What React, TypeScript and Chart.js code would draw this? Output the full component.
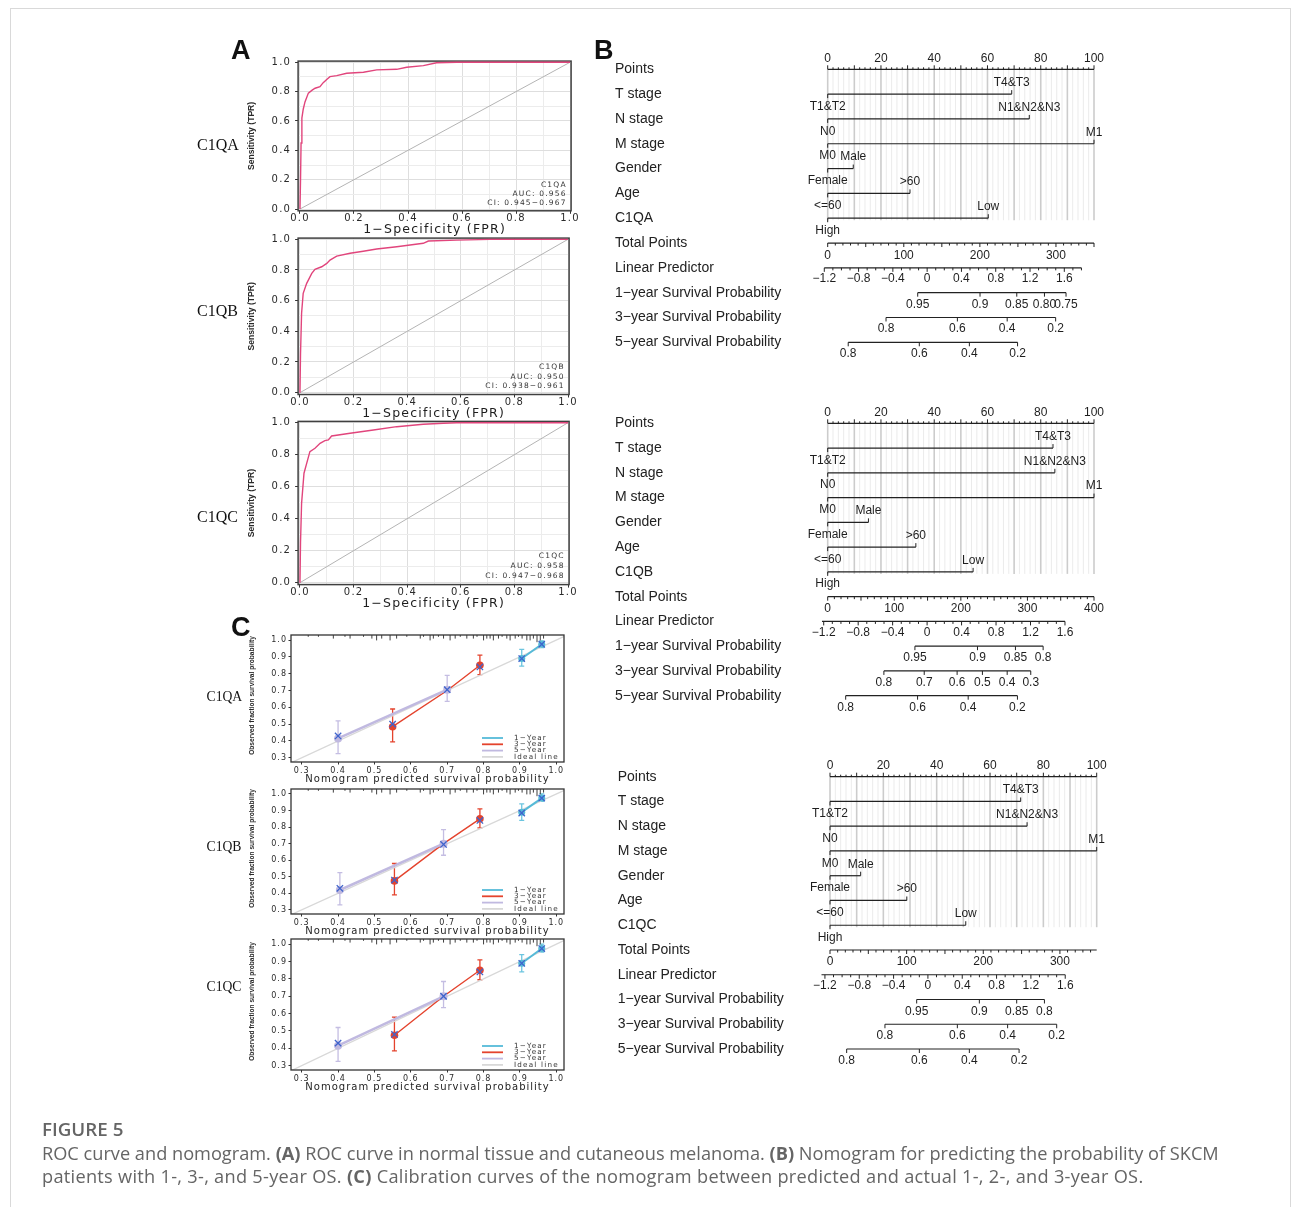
import React, { useEffect, useRef } from 'react';
import { Chart, registerables } from 'chart.js';

Chart.register(...registerables);

// ---------------- ROC data ----------------
const rocGenes = ['C1QA', 'C1QB', 'C1QC'];
const rocAuc = ['0.956', '0.950', '0.958'];
const rocCi = ['0.945−0.967', '0.938−0.961', '0.947−0.968'];
const rocFprA = [0, 0.002, 0.004, 0.007, 0.012, 0.0185, 0.031, 0.045, 0.056, 0.074, 0.086, 0.1, 0.111, 0.136, 0.173, 0.235, 0.284, 0.358, 0.395, 0.457, 0.506, 0.58, 1.0];
const rocTprA = [0, 0.2, 0.45, 0.62, 0.68, 0.73, 0.79, 0.81, 0.823, 0.834, 0.861, 0.885, 0.902, 0.909, 0.925, 0.932, 0.948, 0.952, 0.966, 0.977, 0.997, 1.0, 1.0];
const rocFprB = [0, 0.002, 0.006, 0.012, 0.025, 0.044, 0.056, 0.081, 0.1, 0.112, 0.137, 0.187, 0.236, 0.286, 0.361, 0.46, 0.479, 0.585, 0.709, 1.0];
const rocTprB = [0, 0.25, 0.518, 0.648, 0.713, 0.778, 0.804, 0.821, 0.843, 0.865, 0.891, 0.909, 0.922, 0.937, 0.952, 0.974, 0.989, 0.995, 1.0, 1.0];
const rocFprC = [0, 0.002, 0.006, 0.015, 0.025, 0.037, 0.056, 0.075, 0.093, 0.106, 0.118, 0.187, 0.274, 0.361, 0.46, 0.535, 0.585, 1.0];
const rocTprC = [0, 0.25, 0.496, 0.684, 0.746, 0.819, 0.84, 0.871, 0.888, 0.892, 0.917, 0.934, 0.954, 0.975, 0.99, 0.996, 1.0, 1.0];
const rocFpr = [rocFprA, rocFprB, rocFprC];
const rocTpr = [rocTprA, rocTprB, rocTprC];
const rocGridValues = [0, 0.1, 0.2, 0.3, 0.4, 0.5, 0.6, 0.7, 0.8, 0.9, 1.0];
const rocTickLabels = ['0.0', '', '0.2', '', '0.4', '', '0.6', '', '0.8', '', '1.0'];
const rocXTitle = '1−Specificity (FPR)';
const rocYTitle = 'Sensitivity (TPR)';

// ---------------- Calibration data ----------------
const calTickValues = [0.3, 0.4, 0.5, 0.6, 0.7, 0.8, 0.9, 1.0];
const calTickLabels = ['0.3', '0.4', '0.5', '0.6', '0.7', '0.8', '0.9', '1.0'];
const calLegendLabels = ['1−Year', '3−Year', '5−Year', 'Ideal line'];
const calXTitle = 'Nomogram predicted survival probability';
const calYTitle = 'Observed fraction survival probability';
const calIdeal = [0.25, 1.05];
const cal1yPred = [[0.905, 0.96], [0.905, 0.96], [0.905, 0.96]];
const cal1yObs = [[0.89, 0.975], [0.89, 0.975], [0.89, 0.975]];
const cal1yLo = [[0.845, 0.955], [0.84, 0.955], [0.84, 0.955]];
const cal1yHi = [[0.945, 0.995], [0.94, 1.0], [0.94, 1.0]];
const cal3yPred = [[0.55, 0.70, 0.79], [0.555, 0.69, 0.79], [0.555, 0.69, 0.79]];
const cal3yObs = [[0.485, 0.70, 0.85], [0.475, 0.70, 0.85], [0.475, 0.70, 0.85]];
const cal3yLo = [[0.395, null, 0.795], [0.39, null, 0.795], [0.385, null, 0.795]];
const cal3yHi = [[0.59, null, 0.91], [0.58, null, 0.91], [0.58, null, 0.91]];
const cal5yPred = [[0.40, 0.70], [0.405, 0.69], [0.40, 0.69]];
const cal5yObs = [[0.415, 0.705], [0.42, 0.70], [0.415, 0.70]];
const cal5yLo = [[0.325, 0.635], [0.33, 0.63], [0.325, 0.635]];
const cal5yHi = [[0.52, 0.79], [0.525, 0.785], [0.52, 0.785]];
const calKmPred = [[0.40, 0.55, 0.70, 0.79, 0.905, 0.96], [0.405, 0.555, 0.69, 0.79, 0.905, 0.96], [0.40, 0.555, 0.69, 0.79, 0.905, 0.96]];
const calKmObs = [[0.43, 0.50, 0.705, 0.84, 0.89, 0.975], [0.43, 0.48, 0.695, 0.84, 0.885, 0.975], [0.43, 0.48, 0.70, 0.84, 0.89, 0.975]];
const calRugX = [0.318, 0.346, 0.387, 0.419, 0.433, 0.47, 0.493, 0.506, 0.52, 0.543, 0.561, 0.589, 0.626, 0.635, 0.653, 0.662, 0.676, 0.69, 0.708, 0.722, 0.736, 0.754, 0.772, 0.782, 0.8, 0.809, 0.818, 0.827, 0.841, 0.851, 0.864, 0.873, 0.887, 0.896, 0.906, 0.919, 0.928, 0.937, 0.947, 0.956, 0.965];
const calRugN = [1, 1, 2, 1, 2, 1, 2, 3, 2, 3, 2, 1, 2, 1, 3, 2, 1, 2, 3, 2, 1, 2, 2, 1, 3, 2, 2, 3, 2, 1, 2, 3, 2, 1, 2, 3, 3, 2, 4, 3, 2];

// ---------------- Nomogram data ----------------
const nomoVarNames = ['T stage', 'N stage', 'M stage', 'Gender', 'Age'];
const nomoSurvNames = ['1−year Survival Probability', '3−year Survival Probability', '5−year Survival Probability'];
const nomoHiLabels = ['T4&T3', 'N1&N2&N3', 'M1', 'Male', '>60', 'Low'];
const nomoLoLabels = ['T1&T2', 'N0', 'M0', 'Female', '<=60', 'High'];
const nomoVarPoints = [
  [69.1, 75.7, 100, 9.6, 30.9, 60.3],
  [84.6, 85.3, 100, 15.3, 33.1, 54.6],
  [71.5, 73.9, 100, 11.5, 28.8, 50.9],
];
const nomoPointsLabels = [0, 20, 40, 60, 80, 100];
const nomoTotalMax = [350, 400, 348];
const nomoTotalLabels = [[0, 100, 200, 300], [0, 100, 200, 300, 400], [0, 100, 200, 300]];
const nomoLpRef = [-1.2, 1.6];
const nomoLpRefPts = [[-1.28, 88.85], [-1.5, 89.1], [-1.9, 88.2]];
const nomoLpRange = [[-1.2, 1.8], [-1.22, 1.6], [-1.24, 1.6]];
const nomoLpLabels = [-1.2, -0.8, -0.4, 0, 0.4, 0.8, 1.2, 1.6];
const nomoSurv1Labels = [['0.95', '0.9', '0.85', '0.80', '0.75'], ['0.95', '0.9', '0.85', '0.8'], ['0.95', '0.9', '0.85', '0.8']];
const nomoSurv1Pts = [[33.8, 57.2, 71.0, 81.4, 89.5], [32.75, 56.25, 70.5, 80.9], [32.5, 56, 70, 80.4]];
const nomoSurv3Labels = [['0.8', '0.6', '0.4', '0.2'], ['0.8', '0.7', '0.6', '0.5', '0.4', '0.3'], ['0.8', '0.6', '0.4', '0.2']];
const nomoSurv3Pts = [[21.9, 48.7, 67.4, 85.6], [21.1, 36.25, 48.6, 58.1, 67.4, 76.25], [20.6, 47.75, 66.6, 85]];
const nomoSurv5Labels = [['0.8', '0.6', '0.4', '0.2'], ['0.8', '0.6', '0.4', '0.2'], ['0.8', '0.6', '0.4', '0.2']];
const nomoSurv5Pts = [[7.7, 34.4, 53.2, 71.3], [6.75, 33.75, 52.75, 71.25], [6.25, 33.5, 52.25, 70.9]];

// ---------------- layout (page px) ----------------
const rocGeo = [
  { cx: 240, cy: 50, cw: 345, ch: 190, l: 298.1, t: 61.1, r: 571.1, b: 210.8 },
  { cx: 240, cy: 228, cw: 345, ch: 196, l: 298.1, t: 238.1, r: 569.1, b: 394.5 },
  { cx: 240, cy: 410, cw: 345, ch: 204, l: 298.1, t: 421.4, r: 569.1, b: 584.6 },
];
const calGeo = [
  { cx: 240, cy: 625, cw: 330, ch: 162, l: 291, t: 635, r: 564, b: 762 },
  { cx: 240, cy: 779, cw: 330, ch: 160, l: 291, t: 789, r: 564, b: 914 },
  { cx: 240, cy: 929, cw: 330, ch: 166, l: 291, t: 939, r: 564, b: 1070 },
];
const nomoGeo = [
  { cx: 605, cy: 40, cw: 510, ch: 330, lx: 615, l: 827.7, t: 69.3, r: 1094, b: 342.3 },
  { cx: 605, cy: 395, cw: 510, ch: 330, lx: 615, l: 827.7, t: 423.3, r: 1094, b: 695.7 },
  { cx: 605, cy: 750, cw: 510, ch: 330, lx: 617.7, l: 830, t: 776.7, r: 1096.7, b: 1049 },
];

const SANS = '"Liberation Sans", Arial, sans-serif';
const WIDE = '"DejaVu Sans", sans-serif';
const SERIF = '"Liberation Serif", "Times New Roman", serif';
const CAPTION = '"Open Sans", sans-serif';

// ---------------- plugins ----------------
const spacingPlugin = (px: string) => ({
  id: 'spacing',
  beforeDraw(c: any) { c.ctx.letterSpacing = px; },
  afterDraw(c: any) { c.ctx.letterSpacing = '0px'; },
});

const rotTitlePlugin = (text: string, x: number, size: number, dy: number) => ({
  id: 'rotTitle',
  afterDraw(c: any) {
    const ctx = c.ctx;
    const { top, bottom } = c.chartArea;
    ctx.save();
    ctx.letterSpacing = '0px';
    ctx.translate(x, (top + bottom) / 2 + dy);
    ctx.rotate(-Math.PI / 2);
    ctx.font = `bold ${size}px ${SANS}`;
    ctx.fillStyle = '#2a2a2a';
    ctx.textAlign = 'center';
    ctx.textBaseline = 'middle';
    ctx.fillText(text, 0, 0);
    ctx.restore();
  },
});

const rocFramePlugin = {
  id: 'rocFrame',
  beforeDatasetsDraw(c: any) {
    const { left, top, right, bottom } = c.chartArea;
    const ctx = c.ctx;
    ctx.save();
    ctx.strokeStyle = '#404040';
    ctx.lineWidth = 1.5;
    ctx.strokeRect(left, top, right - left, bottom - top);
    ctx.restore();
  },
};

const rocTextPlugin = (k: number) => ({
  id: 'rocText',
  afterDatasetsDraw(c: any) {
    const ctx = c.ctx;
    const xs = c.scales.x, ys = c.scales.y;
    const x = xs.getPixelForValue(0.988);
    const lines = [rocGenes[k], 'AUC: ' + rocAuc[k], 'CI: ' + rocCi[k]];
    const yv = [0.166, 0.101, 0.04];
    ctx.save();
    ctx.letterSpacing = '1.2px';
    ctx.font = `7.5px ${WIDE}`;
    ctx.fillStyle = '#333';
    ctx.textAlign = 'right';
    ctx.textBaseline = 'middle';
    lines.forEach((s, i) => ctx.fillText(s, x, ys.getPixelForValue(yv[i])));
    ctx.restore();
  },
});

const calDecorPlugin = {
  id: 'calDecor',
  beforeDatasetsDraw(c: any) {
    const ctx = c.ctx, xs = c.scales.x, ys = c.scales.y;
    ctx.save();
    c.data.datasets.forEach((ds: any) => {
      if (!ds.errLo) return;
      ctx.strokeStyle = ds.errColor;
      ctx.lineWidth = 1.3;
      ds.data.forEach((p: any, j: number) => {
        const lo = ds.errLo[j], hi = ds.errHi[j];
        if (lo == null || hi == null) return;
        const x = xs.getPixelForValue(p.x);
        const y1 = ys.getPixelForValue(lo), y2 = ys.getPixelForValue(hi);
        ctx.beginPath();
        ctx.moveTo(x, y1); ctx.lineTo(x, y2);
        ctx.moveTo(x - 2.5, y1); ctx.lineTo(x + 2.5, y1);
        ctx.moveTo(x - 2.5, y2); ctx.lineTo(x + 2.5, y2);
        ctx.stroke();
      });
    });
    ctx.restore();
  },
  afterDatasetsDraw(c: any) {
    const ctx = c.ctx, xs = c.scales.x;
    const { left, top, right, bottom } = c.chartArea;
    ctx.save();
    ctx.strokeStyle = '#2a2a2a';
    ctx.lineWidth = 0.9;
    calRugX.forEach((v, i) => {
      const x = xs.getPixelForValue(v);
      ctx.beginPath(); ctx.moveTo(x, top); ctx.lineTo(x, top + calRugN[i] * 1.8); ctx.stroke();
    });
    ctx.strokeStyle = '#333';
    ctx.lineWidth = 1.3;
    ctx.strokeRect(left, top, right - left, bottom - top);
    ctx.restore();
  },
  afterDraw(c: any) {
    const ctx = c.ctx;
    const { right, bottom } = c.chartArea;
    ctx.save();
    ctx.letterSpacing = '1.2px';
    ctx.font = `7.2px ${WIDE}`;
    ctx.fillStyle = '#333';
    ctx.textAlign = 'left';
    ctx.textBaseline = 'middle';
    calLegendLabels.forEach((lab, r) => {
      const ds: any = c.data.datasets.find((d: any) => d.label === lab);
      const y = bottom - 24 + r * 6.3;
      ctx.strokeStyle = ds.borderColor;
      ctx.lineWidth = 1.8;
      ctx.beginPath(); ctx.moveTo(right - 82, y); ctx.lineTo(right - 61, y); ctx.stroke();
      ctx.fillText(lab, right - 50, y);
    });
    ctx.restore();
  },
};

const lpFormat = (v: number) => {
  const r = Math.round(v * 10) / 10;
  if (r === 0) return '0';
  return (r < 0 ? '−' : '') + Math.abs(r).toFixed(1);
};

const nomoDecorPlugin = (k: number) => {
  const [p0, p1] = nomoLpRefPts[k];
  const lpPos = (v: number) => p0 + (v - nomoLpRef[0]) * (p1 - p0) / (nomoLpRef[1] - nomoLpRef[0]);
  const totPos = (t: number) => (t * 100) / nomoTotalMax[k];
  return {
    id: 'nomoDecor',
    beforeDatasetsDraw(c: any) {
      const ctx = c.ctx;
      const X = (v: number) => c.scales.x.getPixelForValue(v);
      const Y = (r: number) => c.scales.y.getPixelForValue(r);
      const yTop = Y(0), yBot = Y(6) + 2;
      ctx.save();
      for (let i = 0; i <= 50; i++) {
        const v = i * 2;
        const major = v % 10 === 0;
        ctx.strokeStyle = major ? '#cccccc' : '#e6e6e6';
        ctx.lineWidth = major ? 1.6 : 0.8;
        ctx.beginPath(); ctx.moveTo(X(v), yTop); ctx.lineTo(X(v), yBot); ctx.stroke();
      }
      ctx.restore();
    },
    afterDatasetsDraw(c: any) {
      const ctx = c.ctx;
      const X = (v: number) => c.scales.x.getPixelForValue(v);
      const Y = (r: number) => c.scales.y.getPixelForValue(r);
      ctx.save();
      ctx.strokeStyle = '#222';
      ctx.lineWidth = 1;
      ctx.fillStyle = '#1e1e1e';
      ctx.font = `12px ${SANS}`;
      ctx.textAlign = 'center';
      ctx.textBaseline = 'middle';
      const tick = (x: number, y: number, len: number) => { ctx.beginPath(); ctx.moveTo(x, y); ctx.lineTo(x, y + len); ctx.stroke(); };
      // Points axis
      const y0 = Y(0);
      for (let i = 0; i <= 50; i++) tick(X(i * 2), y0, i % 5 === 0 ? -4 : -2);
      nomoPointsLabels.forEach((v) => ctx.fillText(String(v), X(v), y0 - 11));
      // variables
      nomoVarPoints[k].forEach((e, j) => {
        const y = Y(j + 1);
        tick(X(e), y, -4);
        tick(X(0), y, 4);
        ctx.fillText(nomoHiLabels[j], X(e), y - 11.5);
        ctx.fillText(nomoLoLabels[j], X(0), y + 12.3);
      });
      // total points
      const yT = Y(7);
      for (let t = 0; t <= nomoTotalMax[k] + 1e-6; t += 10) tick(X(totPos(t)), yT, t % 50 === 0 ? 4 : 2.5);
      nomoTotalLabels[k].forEach((t) => ctx.fillText(String(t), X(totPos(t)), yT + 12.2));
      // linear predictor
      const yL = Y(8);
      const lpMax = nomoLpRange[k][1];
      for (let i = 0; i < 60; i++) {
        const v = nomoLpRef[0] + i * 0.1;
        if (v > lpMax + 1e-6) break;
        tick(X(lpPos(v)), yL, i % 4 === 0 ? 4 : 2.5);
      }
      nomoLpLabels.forEach((v) => { if (v <= lpMax + 1e-6) ctx.fillText(lpFormat(v), X(lpPos(v)), yL + 11); });
      // survival axes
      const surv = [[nomoSurv1Labels[k], nomoSurv1Pts[k]], [nomoSurv3Labels[k], nomoSurv3Pts[k]], [nomoSurv5Labels[k], nomoSurv5Pts[k]]] as any[];
      surv.forEach(([labels, pts], m) => {
        const y = Y(9 + m);
        pts.forEach((p: number, j: number) => { tick(X(p), y, 4); ctx.fillText(labels[j], X(p), y + 11.7); });
      });
      ctx.restore();
    },
  };
};

// ---------------- chart builders ----------------
function makeRoc(canvas: HTMLCanvasElement, k: number, g: any) {
  const curve = rocFpr[k].map((x, j) => ({ x, y: rocTpr[k][j] }));
  const xAxisH = g.cy + g.ch - g.b;
  const yAxisW = g.l - g.cx;
  const axisFont = { family: 'DejaVu Sans', size: 10, lineHeight: 1 };
  const gridColor = (c: any) => (c.index % 2 === 0 ? '#dedede' : '#ececec');
  const tickColor = (c: any) => (c.index % 2 === 0 ? '#333333' : 'rgba(0,0,0,0)');
  return new Chart(canvas, {
    type: 'scatter',
    data: {
      datasets: [
        { label: rocGenes[k], data: curve, showLine: true, borderColor: '#e1457c', borderWidth: 1.4, pointRadius: 0, order: 0 },
        { label: 'chance', data: [{ x: 0, y: 0 }, { x: 1, y: 1 }], showLine: true, borderColor: '#b4b4b4', borderWidth: 1, pointRadius: 0, order: 1 },
      ],
    },
    options: {
      responsive: false,
      animation: false,
      events: [],
      layout: { padding: { left: 0, top: g.t - g.cy, right: g.cx + g.cw - g.r, bottom: 0 } },
      plugins: { legend: { display: false }, tooltip: { enabled: false } },
      scales: {
        x: {
          type: 'linear', min: -0.007, max: 1.004,
          afterBuildTicks: (s: any) => { s.ticks = rocGridValues.map((v) => ({ value: v })); },
          afterFit: (s: any) => { s.height = xAxisH; },
          ticks: { callback: (_v: any, i: number) => rocTickLabels[i], font: axisFont, color: '#2a2a2a', padding: 0, maxRotation: 0, autoSkip: false },
          grid: { color: gridColor, lineWidth: 1, tickLength: 3, tickColor, tickWidth: 1 },
          border: { display: false },
          title: { display: true, text: rocXTitle, font: { family: 'DejaVu Sans', size: 12.5, lineHeight: 1 }, color: '#1e1e1e', padding: { top: 0, bottom: 4.2 } },
        },
        y: {
          type: 'linear', min: -0.012, max: 1.008,
          afterBuildTicks: (s: any) => { s.ticks = rocGridValues.map((v) => ({ value: v })); },
          afterFit: (s: any) => { s.width = yAxisW; },
          ticks: { callback: (_v: any, i: number) => rocTickLabels[i], font: axisFont, color: '#2a2a2a', padding: 4, autoSkip: false },
          grid: { color: gridColor, lineWidth: 1, tickLength: 3, tickColor, tickWidth: 1 },
          border: { display: false },
        },
      },
    },
    plugins: [spacingPlugin('1.2px'), rocFramePlugin, rocTextPlugin(k), rotTitlePlugin(rocYTitle, 251.7 - g.cx, 8.6, 0)],
  } as any);
}

function makeCal(canvas: HTMLCanvasElement, k: number, g: any) {
  const pts = (xs: number[], ys: number[]) => xs.map((x, j) => ({ x, y: ys[j] }));
  const xAxisH = g.cy + g.ch - g.b;
  const yAxisW = g.l - g.cx;
  const axisFont = { family: 'DejaVu Sans', size: 8, lineHeight: 1 };
  const datasets: any[] = [
    { label: 'Kaplan-Meier', data: pts(calKmPred[k], calKmObs[k]), showLine: false, pointStyle: 'crossRot', pointRadius: 4.5, pointBorderColor: '#3f64cc', pointBorderWidth: 1.3, pointBackgroundColor: 'rgba(0,0,0,0)', order: 0 },
    { label: '1−Year', data: pts(cal1yPred[k], cal1yObs[k]), showLine: true, borderColor: '#55bad8', borderWidth: 2, pointRadius: 3.5, pointBackgroundColor: '#55bad8', pointBorderWidth: 0, errLo: cal1yLo[k], errHi: cal1yHi[k], errColor: '#6cc5df', order: 1 },
    { label: '5−Year', data: pts(cal5yPred[k], cal5yObs[k]), showLine: true, borderColor: '#c0b9e0', borderWidth: 2.5, pointRadius: 4, pointBackgroundColor: '#c0b9e0', pointBorderWidth: 0, errLo: cal5yLo[k], errHi: cal5yHi[k], errColor: '#c4bde2', order: 2 },
    { label: '3−Year', data: pts(cal3yPred[k], cal3yObs[k]), showLine: true, borderColor: '#e4432d', borderWidth: 1.4, pointRadius: [3.8, 0, 3.8], pointBackgroundColor: '#e4432d', pointBorderWidth: 0, errLo: cal3yLo[k], errHi: cal3yHi[k], errColor: '#e4432d', order: 3 },
    { label: 'Ideal line', data: calIdeal.map((v) => ({ x: v, y: v })), showLine: true, borderColor: '#d8d8d8', borderWidth: 1.3, pointRadius: 0, order: 4 },
  ];
  return new Chart(canvas, {
    type: 'scatter',
    data: { datasets },
    options: {
      responsive: false,
      animation: false,
      events: [],
      layout: { padding: { left: 0, top: g.t - g.cy, right: g.cx + g.cw - g.r, bottom: 0 } },
      plugins: { legend: { display: false }, tooltip: { enabled: false } },
      scales: {
        x: {
          type: 'linear', min: 0.2706, max: 1.0212,
          afterBuildTicks: (s: any) => { s.ticks = calTickValues.map((v) => ({ value: v })); },
          afterFit: (s: any) => { s.height = xAxisH; },
          ticks: { callback: (_v: any, i: number) => calTickLabels[i], font: axisFont, color: '#2a2a2a', padding: 2, maxRotation: 0, autoSkip: false },
          grid: { drawOnChartArea: false, tickLength: 2.5, tickColor: '#333', tickWidth: 1 },
          border: { display: false },
          title: { display: true, text: calXTitle, font: { family: 'DejaVu Sans', size: 10, lineHeight: 1 }, color: '#1e1e1e', padding: { top: 0, bottom: 2.5 } },
        },
        y: {
          type: 'linear', min: 0.275, max: 1.03,
          afterBuildTicks: (s: any) => { s.ticks = calTickValues.map((v) => ({ value: v })); },
          afterFit: (s: any) => { s.width = yAxisW; },
          ticks: { callback: (_v: any, i: number) => calTickLabels[i], font: axisFont, color: '#2a2a2a', padding: 1.5, autoSkip: false },
          grid: { drawOnChartArea: false, tickLength: 2.5, tickColor: '#333', tickWidth: 1 },
          border: { display: false },
        },
      },
    },
    plugins: [spacingPlugin('1px'), calDecorPlugin, rotTitlePlugin(calYTitle, 252.3 - g.cx, 6.6, -3)],
  } as any);
}

function makeNomo(canvas: HTMLCanvasElement, k: number, g: any) {
  const rows = ['Points', ...nomoVarNames, rocGenes[k], 'Total Points', 'Linear Predictor', ...nomoSurvNames];
  const [p0, p1] = nomoLpRefPts[k];
  const lpPos = (v: number) => p0 + (v - nomoLpRef[0]) * (p1 - p0) / (nomoLpRef[1] - nomoLpRef[0]);
  const totPos = (t: number) => (t * 100) / nomoTotalMax[k];
  const seg = (r: number, a: number, b: number) => ({
    label: rows[r], data: [{ x: a, y: rows[r] }, { x: b, y: rows[r] }], showLine: true,
    borderColor: '#222', borderWidth: 1.2, pointRadius: 0, clip: false,
  });
  const s1 = nomoSurv1Pts[k], s3 = nomoSurv3Pts[k], s5 = nomoSurv5Pts[k];
  const datasets = [
    seg(0, nomoPointsLabels[0], nomoPointsLabels[nomoPointsLabels.length - 1]),
    ...nomoVarPoints[k].map((e, j) => seg(j + 1, 0, e)),
    seg(7, totPos(0), totPos(nomoTotalMax[k])),
    seg(8, lpPos(nomoLpRange[k][0]), lpPos(nomoLpRange[k][1])),
    seg(9, s1[0], s1[s1.length - 1]),
    seg(10, s3[0], s3[s3.length - 1]),
    seg(11, s5[0], s5[s5.length - 1]),
  ];
  const padLeft = g.lx - g.cx;
  const yAxisW = g.l - g.lx;
  return new Chart(canvas, {
    type: 'scatter',
    data: { datasets },
    options: {
      responsive: false,
      animation: false,
      events: [],
      layout: { padding: { left: padLeft, top: g.t - g.cy, right: g.cx + g.cw - g.r, bottom: g.cy + g.ch - g.b } },
      plugins: { legend: { display: false }, tooltip: { enabled: false } },
      scales: {
        x: { type: 'linear', min: 0, max: 100, display: false },
        y: {
          type: 'category', labels: rows, offset: false,
          afterFit: (s: any) => { s.width = yAxisW; },
          ticks: { crossAlign: 'far', autoSkip: false, font: { family: 'Liberation Sans', size: 14 }, color: '#222' },
          grid: { display: false },
          border: { display: false },
        },
      },
    },
    plugins: [nomoDecorPlugin(k)],
  } as any);
}

// ---------------- React ----------------
const Txt = (p: { x: number; y: number; s: number; f: string; w?: number; c?: string; ls?: number; children: any }) => (
  <div
    style={{
      position: 'absolute', left: p.x, top: p.y, fontSize: p.s, fontFamily: p.f, fontWeight: p.w || 400,
      color: p.c || '#111', lineHeight: 0, whiteSpace: 'nowrap', letterSpacing: p.ls || 0,
    }}
  >
    {p.children}
  </div>
);

export default function App() {
  const refs = useRef<(HTMLCanvasElement | null)[]>([]);
  const geos = [...rocGeo, ...calGeo, ...nomoGeo];
  useEffect(() => {
    const charts: Chart[] = [];
    rocGeo.forEach((g, i) => charts.push(makeRoc(refs.current[i]!, i, g)));
    calGeo.forEach((g, i) => charts.push(makeCal(refs.current[3 + i]!, i, g)));
    nomoGeo.forEach((g, i) => charts.push(makeNomo(refs.current[6 + i]!, i, g)));
    return () => charts.forEach((c) => c.destroy());
  }, []);
  const capColor = '#656565';
  return (
    <div style={{ position: 'absolute', left: 0, top: 0, width: 1295, height: 1207, background: '#fff', overflow: 'hidden' }}>
      <div style={{ position: 'absolute', left: 10, top: 8, width: 1281, height: 1205, border: '1px solid #d9d9d9', boxSizing: 'border-box' }} />
      {geos.map((g, i) => (
        <canvas
          key={i}
          ref={(el) => { refs.current[i] = el; }}
          width={g.cw}
          height={g.ch}
          style={{ position: 'absolute', left: g.cx, top: g.cy, width: g.cw, height: g.ch }}
        />
      ))}
      <Txt x={231} y={50} s={27} f={SANS} w={700}>A</Txt>
      <Txt x={594} y={50} s={27} f={SANS} w={700}>B</Txt>
      <Txt x={231} y={627} s={27} f={SANS} w={700}>C</Txt>
      <Txt x={197} y={145} s={16} f={SERIF}>C1QA</Txt>
      <Txt x={197} y={311} s={16} f={SERIF}>C1QB</Txt>
      <Txt x={197} y={517} s={16} f={SERIF}>C1QC</Txt>
      <Txt x={206.5} y={697} s={13.7} f={SERIF}>C1QA</Txt>
      <Txt x={206.5} y={847} s={13.7} f={SERIF}>C1QB</Txt>
      <Txt x={206.5} y={987} s={13.7} f={SERIF}>C1QC</Txt>
      <Txt x={42} y={1129} s={18.8} f={CAPTION} w={600} c={capColor}>FIGURE 5</Txt>
      <Txt x={42} y={1153} s={18.2} f={CAPTION} c={capColor}>
        ROC curve and nomogram. <b>(A)</b> ROC curve in normal tissue and cutaneous melanoma. <b>(B)</b> Nomogram for predicting the probability of SKCM
      </Txt>
      <Txt x={42} y={1176} s={18.2} f={CAPTION} c={capColor} ls={0.28}>
        patients with 1-, 3-, and 5-year OS. <b>(C)</b> Calibration curves of the nomogram between predicted and actual 1-, 2-, and 3-year OS.
      </Txt>
    </div>
  );
}
